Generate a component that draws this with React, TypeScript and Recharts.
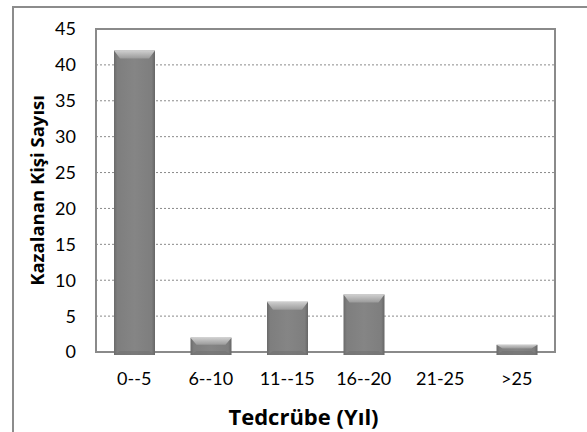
import { BarChart, Bar, XAxis, YAxis, CartesianGrid, ReferenceArea } from 'recharts';

const categories = ['0--5', '6--10', '11--15', '16--20', '21-25', '>25'];
const counts = [42, 2, 7, 8, 0, 1];
const yTicks = [0, 5, 10, 15, 20, 25, 30, 35, 40, 45];

const data = categories.map((name, i) => ({ name, count: counts[i] }));

const TICK_FONT = 'Lato, "Open Sans", sans-serif';
const TITLE_FONT = '"Open Sans", Lato, sans-serif';

function BevelBar(props: any) {
  const { x, y, width, height } = props;
  if (!height || height <= 0) return null;
  const b = Math.min(8, height / 2);
  return (
    <g>
      <rect x={x} y={y} width={width} height={height + 3} fill="url(#barBody)" />
      <polygon
        points={`${x},${y} ${x + width},${y} ${x + width - 6},${y + b} ${x + 6},${y + b}`}
        fill="url(#barTop)"
      />
      <polygon
        points={`${x},${y + height + 3} ${x + width},${y + height + 3} ${x + width - 6},${y + height - 1} ${x + 6},${y + height - 1}`}
        fill="#727272"
        opacity={0.6}
      />
    </g>
  );
}

export default function App() {
  return (
    <div style={{ position: 'absolute', left: 0, top: 0, width: 587, height: 432, background: '#fff', overflow: 'hidden' }}>
      <div
        style={{
          position: 'absolute',
          left: 12,
          top: 6,
          width: 600,
          height: 450,
          borderTop: '2px solid #8c8c8c',
          borderLeft: '2px solid #8c8c8c',
        }}
      />
      <div style={{ position: 'absolute', left: 0, top: 0 }}>
        <BarChart
          width={587}
          height={432}
          data={data}
          margin={{ top: 29, right: 32, left: 0, bottom: 0 }}
        >
          <defs>
            <linearGradient id="barBody" x1="0" y1="0" x2="1" y2="0">
              <stop offset="0%" stopColor="#6a6a6a" />
              <stop offset="8%" stopColor="#7e7e7e" />
              <stop offset="50%" stopColor="#858585" />
              <stop offset="92%" stopColor="#7e7e7e" />
              <stop offset="100%" stopColor="#666666" />
            </linearGradient>
            <linearGradient id="barTop" x1="0" y1="0" x2="0" y2="1">
              <stop offset="0%" stopColor="#cfcfcf" />
              <stop offset="100%" stopColor="#9a9a9a" />
            </linearGradient>
          </defs>
          <CartesianGrid vertical={false} stroke="#8a8a8a" strokeDasharray="2 2" />
          <XAxis
            dataKey="name"
            height={80}
            axisLine={false}
            tickLine={false}
            tickSize={0}
            tickMargin={20}
            tick={{ fill: '#000', fontSize: 18, fontFamily: TICK_FONT }}
            label={{
              value: 'Tedcrübe (Yıl)',
              position: 'insideBottom',
              offset: 7,
              dx: -22,
              style: { fill: '#000', fontSize: 22, fontWeight: 700, fontFamily: TITLE_FONT },
            }}
          />
          <YAxis
            width={96}
            domain={[0, 45]}
            ticks={yTicks}
            interval={0}
            axisLine={false}
            tickLine={false}
            tickSize={0}
            tickMargin={20}
            tick={{ fill: '#000', fontSize: 18, fontFamily: TICK_FONT }}
            label={{
              value: 'Kazalanan Kişi Sayısı',
              angle: -90,
              position: 'insideLeft',
              offset: 37,
              style: { textAnchor: 'middle', fill: '#000', fontSize: 18.5, fontWeight: 700, fontFamily: TITLE_FONT },
            }}
          />
          <ReferenceArea y1={0} y2={45} fill="none" fillOpacity={0} stroke="#8a8a8a" strokeWidth={2} ifOverflow="visible" />
          <Bar dataKey="count" barSize={41} shape={<BevelBar />} isAnimationActive={false} />
        </BarChart>
      </div>
    </div>
  );
}
